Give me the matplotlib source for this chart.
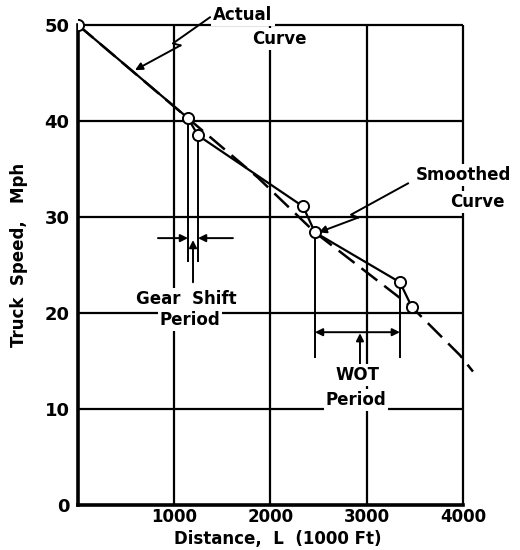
import numpy as np
import matplotlib
matplotlib.use("Agg")
import matplotlib.pyplot as plt

# data
dist_actual = [0, 1143, 1247, 2338, 2462, 3345, 3470]
speed_actual = [50, 40.3, 38.5, 31.1, 28.4, 23.2, 20.6]
dist_smooth = [0, 1164, 1870, 2462, 3470, 3969, 4104]
speed_smooth = [50, 40.1, 34.1, 28.4, 20.6, 15.6, 13.9]

x_ticks = [1000, 2000, 3000, 4000]
y_ticks = [0, 10, 20, 30, 40, 50]

plt.rcParams['font.family'] = ['DejaVu Sans']
plt.rcParams['font.weight'] = 'bold'

fig = plt.figure(figsize=(5.2, 5.5), dpi=100)
ax = fig.add_axes([78 / 520, 45 / 550, 399.4 / 520, 499.2 / 550])
ax.set_xlim(0, 4150)
ax.set_ylim(0, 52)

# grid, only inside the 0-4000 / 0-50 box
ax.hlines(y_ticks[1:], 0, 4000, color='k', lw=1.6, zorder=1)
ax.vlines(x_ticks, 0, 50, color='k', lw=1.6, zorder=1)

for s in ['top', 'right']:
    ax.spines[s].set_visible(False)
ax.spines['left'].set_bounds(0, 50)
ax.spines['bottom'].set_bounds(0, 4000)
ax.spines['left'].set_linewidth(2.6)
ax.spines['bottom'].set_linewidth(2.6)

ax.set_xticks(x_ticks)
ax.set_yticks(y_ticks)
ax.set_xticklabels([str(v) for v in x_ticks], fontsize=12, fontweight='bold')
ax.set_yticklabels([str(v) for v in y_ticks], fontsize=13, fontweight='bold')
ax.tick_params(axis='x', length=0, pad=2)
ax.tick_params(axis='y', length=0, pad=6)

ax.set_xlabel('Distance,  L  (1000 Ft)', fontsize=12, fontweight='bold', labelpad=3)
ax.set_ylabel('Truck  Speed,   Mph', fontsize=12, fontweight='bold', labelpad=12)

# curves
ax.plot(dist_smooth, speed_smooth, color='k', lw=1.8, dashes=(8, 3.5), zorder=3)
ax.plot(dist_actual, speed_actual, color='k', lw=1.6, zorder=4)
ax.plot(dist_actual, speed_actual, 'o', ms=8, mfc='white', mec='k', mew=1.4, zorder=5)

arrow = dict(arrowstyle='-|>', color='k', lw=1.4, mutation_scale=11, shrinkA=0, shrinkB=0)


def leader(start, end, t=0.5):
    # leader line with a little lightning jog, then an arrowhead
    T = ax.transData
    p0 = T.transform(start)
    p1 = T.transform(end)
    d = p1 - p0
    u = d / np.hypot(*d)
    n = np.array([-u[1], u[0]])
    m = p0 + d * t
    a = m + u * 4
    b = m - u * 1 + n * 6
    inv = T.inverted()
    pts = inv.transform(np.array([p0, a, b]))
    ax.plot(pts[:, 0], pts[:, 1], color='k', lw=1.4, zorder=6)
    ax.annotate('', xy=end, xytext=tuple(pts[2]), arrowprops=arrow, zorder=6)


label_box = dict(facecolor='white', edgecolor='none', pad=1.5)
kw = dict(ha='center', va='center', fontsize=12, fontweight='bold', bbox=label_box, zorder=7)

ax.text(1714, 51.0, 'Actual', **kw)
ax.text(2088, 48.5, 'Curve', **kw)
leader((1371, 50.8), (592, 45.3), t=0.45)

ax.text(4010, 34.4, 'Smoothed', **kw)
ax.text(4145, 31.6, 'Curve', **kw)
leader((3429, 33.5), (dist_actual[4] + 40, speed_actual[4]), t=0.6)

# gear shift period
ax.vlines(dist_actual[1], 25.3, speed_actual[1] - 0.5, color='k', lw=1.4, zorder=4)
ax.vlines(dist_actual[2], 25.3, speed_actual[2] - 0.5, color='k', lw=1.4, zorder=4)
ax.annotate('', xy=(dist_actual[1], 27.8), xytext=(831, 27.8), arrowprops=arrow)
ax.annotate('', xy=(dist_actual[2], 27.8), xytext=(1610, 27.8), arrowprops=arrow)
ax.annotate('', xy=(1195, 27.6), xytext=(1195, 23.2), arrowprops=arrow)
ax.text(1122, 21.5, 'Gear  Shift', **kw)
ax.text(1164, 19.3, 'Period', **kw)

# WOT period
ax.vlines(dist_actual[4], 15.3, speed_actual[4] - 0.5, color='k', lw=1.4, zorder=4)
ax.vlines(dist_actual[5], 15.3, speed_actual[5] - 0.5, color='k', lw=1.4, zorder=4)
ax.annotate('', xy=(dist_actual[4], 18.0), xytext=(dist_actual[5], 18.0),
            arrowprops=dict(arrow, arrowstyle='<|-|>'))
ax.annotate('', xy=(2930, 17.9), xytext=(2930, 14.4), arrowprops=arrow)
ax.text(2900, 13.5, 'WOT', **kw)
ax.text(2888, 10.9, 'Period', **kw)

fig.savefig('out.png', dpi=100)
